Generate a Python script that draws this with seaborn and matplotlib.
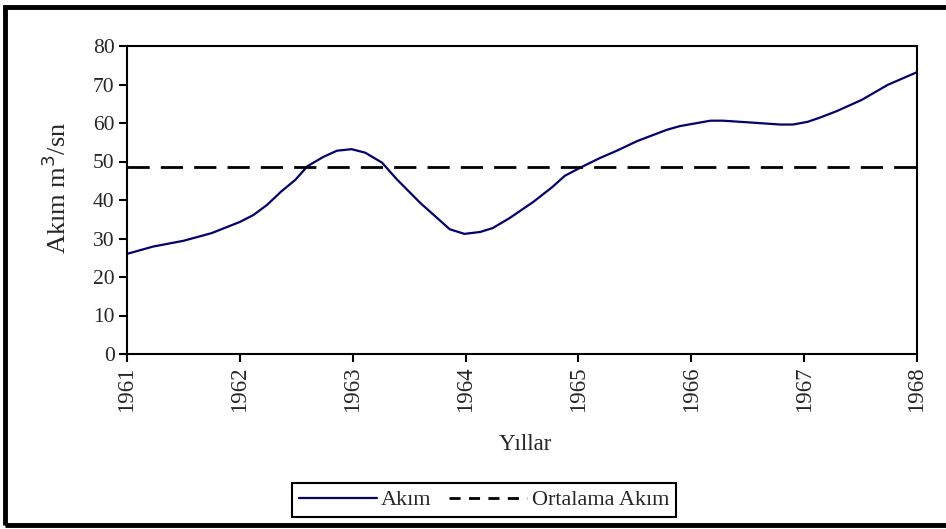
import numpy as np
import pandas as pd
import matplotlib
matplotlib.use("Agg")
import matplotlib.pyplot as plt
import seaborn as sns
from matplotlib.patches import Rectangle
from matplotlib.lines import Line2D

years = [1961.00, 1961.23, 1961.50, 1961.75, 1962.00, 1962.12, 1962.24, 1962.37,
         1962.49, 1962.60, 1962.74, 1962.86, 1962.99, 1963.11, 1963.26, 1963.39,
         1963.60, 1963.86, 1963.99, 1964.13, 1964.24, 1964.39, 1964.60, 1964.77,
         1964.88, 1965.03, 1965.19, 1965.34, 1965.52, 1965.78, 1965.90, 1966.17,
         1966.28, 1966.49, 1966.79, 1966.90, 1967.03, 1967.14, 1967.29, 1967.51,
         1967.74, 1968.00]
akim = [26.0, 27.9, 29.4, 31.4, 34.3, 36.1, 38.7, 42.3,
        45.2, 48.8, 51.2, 52.8, 53.2, 52.3, 49.7, 45.4,
        39.2, 32.4, 31.2, 31.7, 32.7, 35.3, 39.5, 43.4,
        46.3, 48.6, 50.9, 52.8, 55.3, 58.2, 59.2, 60.6,
        60.6, 60.2, 59.6, 59.6, 60.3, 61.4, 63.1, 66.0,
        69.9, 73.2]
ortalama = 48.6
xticks = [1961, 1962, 1963, 1964, 1965, 1966, 1967, 1968]
yticks = [0, 10, 20, 30, 40, 50, 60, 70, 80]

sns.set_theme(style="white")
plt.rcParams['font.family'] = ['Liberation Serif', 'DejaVu Serif']

df = pd.DataFrame({"Yil": years, "Akim": akim})
df_mean = pd.DataFrame({"Yil": [xticks[0], xticks[-1]], "Akim": [ortalama, ortalama]})

fig = plt.figure(figsize=(9.46, 5.29), dpi=100)
ax = fig.add_axes([127/946, 1-354/529, (917-127)/946, (354-46)/529])

sns.lineplot(data=df, x="Yil", y="Akim", ax=ax, color="#000080", linewidth=1.6)
sns.lineplot(data=df_mean, x="Yil", y="Akim", ax=ax, color="black", linewidth=2.0,
             linestyle=(0, (8, 4)))

ax.set_xlim(1961, 1968)
ax.set_ylim(0, 80)
ax.set_xticks(xticks)
ax.set_xticklabels([str(t) for t in xticks], rotation=90, fontsize=16.5)
ax.set_yticks(yticks)
ax.set_yticklabels([str(t) for t in yticks], fontsize=15.5)
ax.tick_params(axis='both', direction='out', length=6, width=1.5, color='black',
               bottom=True, left=True, pad=3)
for s in ax.spines.values():
    s.set_color('black')
    s.set_linewidth(1.5)
ax.set_xlabel("Yıllar", fontsize=16.5)
ax.set_ylabel("Akım m$^3$/sn", fontsize=19)
ax.xaxis.set_label_coords((525-127)/790, -(434-354)/308)
ax.yaxis.set_label_coords(-(127-71)/790, (354-188)/308)

handles = [Line2D([0], [0], color="#000080", linewidth=1.6),
           Line2D([0], [0], color="black", linewidth=2.0, linestyle=(0, (4, 3)))]
leg = fig.legend(handles, ["Akım", "Ortalama Akım"], loc="center",
                 bbox_to_anchor=(484/946, 1-500/529), ncol=2, fontsize=16,
                 frameon=True, fancybox=False, edgecolor='black', framealpha=1,
                 handlelength=3.5, handletextpad=0.2, columnspacing=0.8,
                 borderpad=0.3)
leg.get_frame().set_linewidth(1.5)

fig.patches.append(Rectangle((5/946, 4/529), 1.0, 1-11/529, transform=fig.transFigure,
                             fill=False, edgecolor='black', linewidth=3.5))

fig.savefig("out.png", dpi=100)
